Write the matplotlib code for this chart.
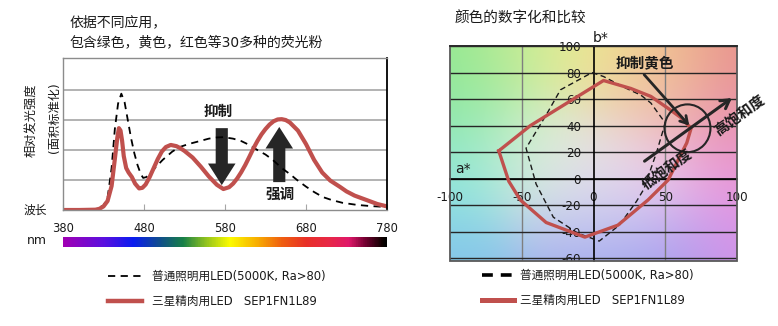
import numpy as np
import matplotlib
matplotlib.use("Agg")
import matplotlib.pyplot as plt
from matplotlib.colors import LinearSegmentedColormap, to_rgb
from matplotlib.lines import Line2D
from matplotlib.patches import Ellipse, Rectangle, FancyArrow

plt.rcParams['font.family'] = ['DejaVu Sans', 'Noto Sans CJK SC']

# ---------------- spectrum data (relative intensity, area-normalised) -------------
wl_general = [380, 400, 420, 430, 435, 440, 444, 448, 452, 456, 460, 464, 468, 472,
              476, 479, 483, 490, 503, 515, 524, 535, 549, 560, 570, 578, 590, 600,
              610, 620, 630, 639, 650, 660, 669, 680, 690, 701, 712, 725, 743, 760, 780]
val_general = [0, 0, 0.02, 0.15, 0.4, 1.4, 2.7, 3.55, 3.88, 3.6, 3.0, 2.4, 1.9, 1.5,
               1.2, 1.07, 1.1, 1.3, 1.67, 1.95, 2.1, 2.2, 2.3, 2.38, 2.42, 2.43, 2.38,
               2.3, 2.17, 2.0, 1.85, 1.67, 1.4, 1.2, 1.0, 0.78, 0.6, 0.43, 0.33, 0.24,
               0.17, 0.13, 0.1]

wl_meat = [380, 400, 420, 425, 430, 435, 440, 444, 447, 449, 451, 453, 455, 458, 461,
           465, 469, 474, 478, 482, 487, 492, 497, 502, 507, 513, 520, 525, 530, 540,
           550, 560, 570, 578, 585, 590, 595, 600, 605, 610, 615, 620, 625, 630, 635,
           640, 645, 650, 655, 660, 670, 680, 690, 700, 710, 722, 730, 740, 755, 768,
           780]
val_meat = [0, 0, 0.01, 0.04, 0.12, 0.3, 0.8, 1.7, 2.4, 2.73, 2.65, 2.3, 1.8, 1.4, 1.25,
            1.1, 0.88, 0.72, 0.74, 0.85, 1.1, 1.4, 1.7, 1.95, 2.1, 2.17, 2.13, 2.06,
            1.97, 1.75, 1.45, 1.12, 0.84, 0.7, 0.76, 0.88, 1.05, 1.26, 1.5, 1.77, 2.05,
            2.3, 2.52, 2.7, 2.85, 2.96, 3.02, 3.03, 3.0, 2.92, 2.65, 2.2, 1.67, 1.25,
            0.98, 0.77, 0.62, 0.48, 0.33, 0.2, 0.12]

wl_ticks = [380, 480, 580, 680, 780]

# visible spectrum bar
spec_wl = [380, 430, 466, 500, 528, 555, 586, 619, 650, 681, 710, 734, 755, 775, 780]
spec_col = ['#a000b4', '#5a10e0', '#0a1cf0', '#10508a', '#188048', '#8cc020', '#fcfc00',
            '#f8b000', '#f06010', '#e83028', '#e82848', '#e0186a', '#700030', '#100000',
            '#000000']

# ---------------- CIELAB a*b* data ----------------
meat_a = [-66, -44, 7, 26, 40, 52, 61, 68, 65, 58, 52, 38, 17, -6, -33, -51, -59, -66]
meat_b = [21, 40, 74, 68, 62, 53, 46, 38, 27, 12, -1, -16, -35, -44, -33, -16, -2, 21]

gen_a = [-1, 7, 21, 33, 40, 50, 44, 35, 30, 18, 4, -11, -28, -40, -47, -33, -23, -1]
gen_b = [80, 77, 69, 63, 57, 42, 20, -8, -17, -35, -47, -41, -29, -4, 23, 48, 67, 80]

a_ticks = [-100, -50, 0, 50, 100]
b_ticks = [-60, -40, -20, 0, 20, 40, 60, 80, 100]

lbl_general = '普通照明用LED(5000K, Ra>80)'
lbl_meat = '三星精肉用LED   SEP1FN1L89'

RED = '#c0504d'
TXT = '#1a1a1a'

fig = plt.figure(figsize=(7.78, 3.26), dpi=100)
W, H = 778, 326


def box(x0, y0, x1, y1):
    return [x0 / W, 1 - y1 / H, (x1 - x0) / W, (y1 - y0) / H]


# ================= left: spectra =================
ax = fig.add_axes(box(63, 58, 387, 210))
ax.set_xlim(380, 780)
ax.set_ylim(0, 5.07)
ax.set_yticks([1, 2, 3, 4])
ax.yaxis.grid(True, color='#a6a6a6', lw=1.2)
ax.tick_params(axis='y', length=0, labelleft=False)
ax.set_xticks(wl_ticks)
ax.set_xticklabels([str(t) for t in wl_ticks], fontsize=8.3, color=TXT)
ax.tick_params(axis='x', direction='in', length=4, color='#a6a6a6', pad=9)
for s in ['left', 'top', 'bottom']:
    ax.spines[s].set_color('#8c8c8c')
    ax.spines[s].set_linewidth(1.0)
ax.spines['right'].set_color('#000000')
ax.spines['right'].set_linewidth(1.3)
ax.set_axisbelow(True)

ax.plot(wl_general, val_general, color='black', lw=1.3, dashes=(4, 3))
ax.plot(wl_meat, val_meat, color=RED, lw=3.0, solid_joinstyle='round')

# suppress / emphasise arrows
ax.add_patch(FancyArrow(576, 2.73, 0, -1.9, width=15, head_width=34, head_length=0.72,
                        length_includes_head=True, color='#262626', lw=0))
ax.add_patch(FancyArrow(647, 0.93, 0, 1.84, width=15, head_width=34, head_length=0.72,
                        length_includes_head=True, color='#262626', lw=0))
ax.text(571, 3.28, '抑制', fontsize=10.5, fontweight='bold', ha='center', va='center',
        color=TXT)
ax.text(648, 0.52, '强调', fontsize=10.5, fontweight='bold', ha='center', va='center',
        color=TXT)

fig.text(70 / W, 1 - 22 / H, '依据不同应用，', fontsize=10, color=TXT, va='center')
fig.text(70 / W, 1 - 42 / H, '包含绿色，黄色，红色等30多种的荧光粉', fontsize=10,
         color=TXT, va='center')
fig.text(32 / W, 1 - 120 / H, '相对发光强度', fontsize=8.8, rotation=90, ha='center',
         va='center', color=TXT)
fig.text(54 / W, 1 - 118 / H, '(面积标准化)', fontsize=8.8, rotation=90, ha='center',
         va='center', color=TXT)
fig.text(35 / W, 1 - 210 / H, '波长', fontsize=8.5, ha='center', va='center', color=TXT)
fig.text(37 / W, 1 - 241 / H, 'nm', fontsize=9, ha='center', va='center', color=TXT)

# spectrum colour bar
cax = fig.add_axes(box(63, 237, 387, 247))
pos = [(w - 380) / 400 for w in spec_wl]
cmap = LinearSegmentedColormap.from_list('spec', list(zip(pos, spec_col)))
cax.imshow(np.linspace(0, 1, 400)[None, :], aspect='auto', cmap=cmap,
           extent=(380, 780, 0, 1))
cax.set_axis_off()

fig.legend([Line2D([], [], color='black', lw=1.3, dashes=(4, 3)),
            Line2D([], [], color=RED, lw=3.2)],
           [lbl_general, lbl_meat], loc='upper left',
           bbox_to_anchor=(108 / W, 1 - 270 / H), frameon=False, fontsize=8.4,
           handlelength=2.9, handletextpad=0.85, borderpad=0, borderaxespad=0,
           labelspacing=1.05, labelcolor=TXT)

# ================= right: a*b* plane =================
bx = fig.add_axes(box(450, 46, 737, 261))
bx.set_xlim(-100, 100)
bx.set_ylim(-62, 100)

# pale colour field behind the a*b* plane
anchors = [(-100, 100, '#8ee88e'), (-50, 100, '#c8ec98'), (0, 100, '#f2ee90'),
           (50, 100, '#f0c48e'), (100, 100, '#e88a8a'), (100, 45, '#e890a6'),
           (100, 0, '#ea94e2'), (100, -62, '#d890e8'), (50, -62, '#a0a0f0'),
           (0, -62, '#92a0ea'), (-100, -62, '#84c4ea'), (-100, 0, '#8ee8e2'),
           (-100, 50, '#8ee8a4'), (0, 5, '#ebebeb'), (-40, 20, '#d6f0d0'),
           (40, 0, '#f0c8f0'), (0, -30, '#d0d0f4'), (40, 60, '#f0c0a8')]
ga, gb = np.meshgrid(np.linspace(-100, 100, 240), np.linspace(100, -62, 200))
num = np.zeros(ga.shape + (3,))
den = np.zeros(ga.shape)
for xa, xb, c in anchors:
    w = np.exp(-((ga - xa) ** 2 + (gb - xb) ** 2) / (2 * 32.0 ** 2))
    num += w[..., None] * np.array(to_rgb(c))
    den += w
bx.imshow(num / den[..., None], extent=(-100, 100, -62, 100), aspect='auto',
          interpolation='bilinear', zorder=0)

for v in [-50, 50]:
    bx.axvline(v, color='#7f7f7f', lw=1.0, zorder=1)
for v in b_ticks:
    bx.axhline(v, color='#262626', lw=1.0, zorder=1)
bx.add_patch(Rectangle((0, 0), 1, 1, transform=bx.transAxes, fill=False,
                       ec='#595959', lw=1.3, zorder=5, clip_on=False))
bx.plot([0, 1], [1, 1], transform=bx.transAxes, color='#262626', lw=1.3, zorder=5,
        clip_on=False)

bx.spines['top'].set_visible(False)
bx.spines['right'].set_visible(False)
bx.spines['left'].set_position(('data', 0))
bx.spines['bottom'].set_position(('data', 0))
for s in ['left', 'bottom']:
    bx.spines[s].set_color('black')
    bx.spines[s].set_linewidth(1.2)
    bx.spines[s].set_zorder(2)
bx.set_xticks(a_ticks)
bx.set_xticklabels([str(t) for t in a_ticks], fontsize=8.6, color=TXT)
bx.set_yticks(b_ticks)
bx.set_yticklabels([str(t) for t in b_ticks], fontsize=8.6, color=TXT)
bx.tick_params(axis='x', length=0, pad=8.5)
bx.tick_params(axis='y', length=0, pad=9)
# the lowest label sits on the lower edge of the plane and is cut there
low = bx.get_yticklabels()[0]
low.set_clip_box(bx.bbox)
low.set_clip_on(True)

bx.plot(gen_a, gen_b, color='#1a1a1a', lw=1.0, dashes=(4, 2.5), zorder=3)
bx.plot(meat_a, meat_b, color=RED, lw=2.4, zorder=4)

bx.add_patch(Ellipse((65.5, 38), 32, 36, fill=False, ec='#262626', lw=1.5, zorder=6))
bx.annotate('', xy=(68, 38.5), xytext=(34, 80),
            arrowprops=dict(arrowstyle='->,head_length=0.5,head_width=0.3',
                            color='#262626', lw=2.0), zorder=7)
bx.annotate('', xy=(98, 62), xytext=(34, 12), annotation_clip=False,
            arrowprops=dict(arrowstyle='->,head_length=0.6,head_width=0.35',
                            color='#262626', lw=2.2), zorder=7)
bx.text(36, 87, '抑制黄色', fontsize=10.5, fontweight='bold', ha='center', va='center',
        color=TXT, zorder=8)
bx.text(51, 7, '低饱和度', fontsize=10.5, fontweight='bold', ha='center', va='center',
        rotation=36, color=TXT, zorder=8)
bx.text(102, 48, '高饱和度', fontsize=10.5, fontweight='bold', ha='center', va='center',
        rotation=36, color=TXT, zorder=8, clip_on=False)
bx.text(-91, 2, 'a*', fontsize=10, ha='center', va='bottom', color=TXT, zorder=8)
bx.text(5, 100.5, 'b*', fontsize=10, ha='center', va='bottom', color=TXT, zorder=8,
        clip_on=False)

fig.text(455 / W, 1 - 18 / H, '颜色的数字化和比较', fontsize=10.5, color=TXT, va='center')

fig.legend([Line2D([], [], color='black', lw=2.6, dashes=(3, 2.2)),
            Line2D([], [], color=RED, lw=3.6)],
           [lbl_general, lbl_meat], loc='upper left',
           bbox_to_anchor=(482 / W, 1 - 269 / H), frameon=False, fontsize=8.4,
           handlelength=2.7, handletextpad=0.55, borderpad=0, borderaxespad=0,
           labelspacing=1.0, labelcolor=TXT)

fig.savefig('out.png', dpi=100)
